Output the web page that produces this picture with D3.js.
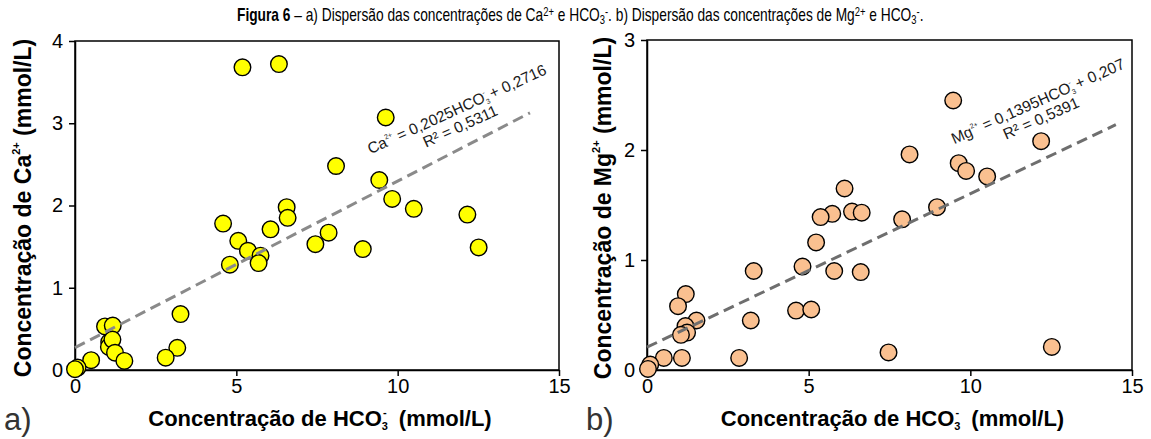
<!DOCTYPE html>
<html>
<head>
<meta charset="utf-8">
<script src="https://cdn.jsdelivr.net/npm/d3@7"></script>
<style>
  body { margin: 0; background: #fff; }
  svg { display: block; }
  .tick text { font-family: "Liberation Sans", Arial, sans-serif; font-size: 20px; fill: #000; }
  .axis path, .axis line { stroke: #000; stroke-width: 1.5; }
</style>
</head>
<body>
<svg id="chart" width="1151" height="439"></svg>
<script>
// panel a) HCO3- vs Ca2+ (mmol/L)
var hco3Ca = [5.19, 6.32, 9.63, 8.09, 9.43, 9.83, 10.50, 12.16, 12.51, 8.92, 7.86, 7.45, 6.56, 6.59, 6.06, 4.59, 5.06,
  5.36, 5.75, 5.69, 4.80, 3.27, 3.17, 2.81, 0.93, 1.17, 1.06, 1.05, 1.16, 1.24, 1.53, 0.50, 0.08, 0.00];
var ca = [3.68, 3.72, 3.07, 2.48, 2.31, 2.08, 1.96, 1.89, 1.49, 1.47, 1.67, 1.53, 1.98, 1.85, 1.71, 1.78, 1.57,
  1.45, 1.39, 1.30, 1.28, 0.68, 0.27, 0.15, 0.53, 0.54, 0.34, 0.28, 0.37, 0.21, 0.11, 0.12, 0.03, 0.01];

// panel b) HCO3- vs Mg2+ (mmol/L)
var hco3Mg = [9.47, 12.19, 8.12, 9.64, 9.87, 10.52, 8.97, 7.89, 6.11, 6.34, 6.64, 5.73, 5.37, 5.23, 4.81, 5.79, 6.61,
  3.30, 4.61, 5.08, 3.21, 2.85, 7.47, 12.52, 1.20, 0.96, 1.53, 1.19, 1.24, 1.05, 1.08, 0.52, 0.10, 0.03];
var mg = [2.45, 2.08, 1.96, 1.88, 1.81, 1.76, 1.48, 1.37, 1.65, 1.44, 1.43, 1.42, 1.39, 1.16, 0.94, 0.90, 0.89,
  0.90, 0.54, 0.55, 0.45, 0.11, 0.16, 0.21, 0.69, 0.58, 0.45, 0.40, 0.34, 0.32, 0.11, 0.11, 0.05, 0.01];

// linear fits [slope, intercept] and the x extent of the trend line
var fitCa = [0.2025, 0.2716];
var fitMg = [0.1395, 0.207];
var fitRangeCa = [0, 14.1];
var fitRangeMg = [0, 14.5];

var xTicks = [0, 5, 10, 15];
var yTicksCa = [0, 1, 2, 3, 4];
var yTicksMg = [0, 1, 2, 3];

var svg = d3.select('#chart');
var sans = '"Liberation Sans", Arial, sans-serif';

svg.append('rect').attr('width', 1151).attr('height', 439).attr('fill', '#fff');

// caption (condensed look by horizontal squeeze)
var cap = svg.append('text')
  .attr('transform', 'translate(237,21) scale(0.786,1)')
  .style('font-family', sans).style('font-size', '17.5px');
cap.append('tspan').style('font-weight', 'bold').text('Figura 6');
cap.append('tspan').text(' \u2013 a) Dispers\u00e3o das concentra\u00e7\u00f5es de Ca');
cap.append('tspan').attr('dy', -5).style('font-size', '12px').text('2+');
cap.append('tspan').attr('dy', 5).text(' e HCO');
cap.append('tspan').attr('dy', 3).style('font-size', '12px').text('3');
cap.append('tspan').attr('dy', -8).style('font-size', '12px').text('-');
cap.append('tspan').attr('dy', 5).text('. b) Dispers\u00e3o das concentra\u00e7\u00f5es de Mg');
cap.append('tspan').attr('dy', -5).style('font-size', '12px').text('2+');
cap.append('tspan').attr('dy', 5).text(' e HCO');
cap.append('tspan').attr('dy', 3).style('font-size', '12px').text('3');
cap.append('tspan').attr('dy', -8).style('font-size', '12px').text('-');
cap.append('tspan').attr('dy', 5).text('.');

function drawPanel(p) {
  var x = d3.scaleLinear().domain([0, 15]).range(p.xRange);
  var y = d3.scaleLinear().domain(p.yDomain).range(p.yRange);
  var g = svg.append('g');

  g.append('g')
    .attr('class', 'axis')
    .attr('transform', 'translate(0,' + p.yRange[0] + ')')
    .call(d3.axisBottom(x).tickValues(xTicks).tickFormat(d3.format('d'))
      .tickSize(6).tickSizeOuter(0).tickPadding(3));

  g.append('g')
    .attr('class', 'axis')
    .attr('transform', 'translate(' + p.xRange[0] + ',0)')
    .call(d3.axisLeft(y).tickValues(p.yTicks).tickFormat(d3.format('d'))
      .tickSize(6).tickSizeOuter(0).tickPadding(6));

  g.append('rect')
    .attr('x', p.xRange[0]).attr('y', p.yRange[1])
    .attr('width', p.xRange[1] - p.xRange[0])
    .attr('height', p.yRange[0] - p.yRange[1])
    .attr('fill', 'none').attr('stroke', '#000').attr('stroke-width', 1.5);

  // points
  g.selectAll('circle')
    .data(p.xs)
    .enter()
    .append('circle')
    .attr('cx', function(d) { return x(d); })
    .attr('cy', function(d, i) { return y(p.ys[i]); })
    .attr('r', 8.3)
    .attr('fill', p.color)
    .attr('stroke', '#000')
    .attr('stroke-width', 1.4);

  // trend line
  var line = d3.line()
    .x(function(d) { return x(d); })
    .y(function(d) { return y(p.fit[0] * d + p.fit[1]); });
  g.append('path')
    .attr('d', line(p.fitRange))
    .attr('fill', 'none')
    .attr('stroke', p.lineColor)
    .attr('stroke-width', 3)
    .attr('stroke-dasharray', '11,6');

  // equation
  var eq = g.append('g')
    .attr('transform', 'translate(' + p.eqPos[0] + ',' + p.eqPos[1] + ') rotate(' + p.eqAngle + ')')
    .style('font-family', sans).style('font-size', '15.5px').attr('fill', '#1a1a1a');
  var t1 = eq.append('text').attr('text-anchor', 'middle');
  t1.append('tspan').text(p.ion);
  t1.append('tspan').attr('dy', -7).style('font-size', '7px').text('2+');
  t1.append('tspan').attr('dy', 7).text(' = ' + p.eqText[0] + 'HCO');
  t1.append('tspan').attr('dy', 3).style('font-size', '7px').text('3');
  t1.append('tspan').attr('dx', -4).attr('dy', -10).style('font-size', '7px').text('-');
  t1.append('tspan').attr('dy', 7).text(' + ' + p.eqText[1]);
  eq.append('text').attr('text-anchor', 'middle')
    .attr('x', p.r2Shift).attr('y', 17)
    .text('R\u00b2 = ' + p.eqText[2]);

  // y title
  var yt = g.append('text')
    .attr('transform', 'translate(' + p.yTitlePos[0] + ',' + p.yTitlePos[1] + ') rotate(-90)')
    .attr('text-anchor', 'middle')
    .style('font-family', sans).style('font-size', '23px').style('font-weight', 'bold');
  yt.append('tspan').text('Concentra\u00e7\u00e3o de ' + p.ion);
  yt.append('tspan').attr('dy', -11).style('font-size', '11px').text('2+');
  yt.append('tspan').attr('dy', 11).text('\u00a0(mmol/L)');

  // x title
  var xt = g.append('text')
    .attr('x', (p.xRange[0] + p.xRange[1]) / 2 + 3).attr('y', 426)
    .attr('text-anchor', 'middle')
    .style('font-family', sans).style('font-size', '22px').style('font-weight', 'bold');
  xt.append('tspan').text('Concentra\u00e7\u00e3o de HCO');
  xt.append('tspan').attr('dy', 4).style('font-size', '11px').text('3');
  xt.append('tspan').attr('dx', -5).attr('dy', -14).style('font-size', '11px').text('-');
  xt.append('tspan').attr('dy', 10).text('\u00a0 (mmol/L)');

  // panel letter
  g.append('text')
    .attr('x', p.letterX).attr('y', 430)
    .style('font-family', sans).style('font-size', '31px').attr('fill', '#333')
    .text(p.letter);
}

drawPanel({
  xs: hco3Ca, ys: ca, color: '#ffff00', lineColor: '#8a8a8a',
  xRange: [75, 559], yRange: [370, 41], yDomain: [0, 4], yTicks: yTicksCa,
  fit: fitCa, fitRange: fitRangeCa,
  ion: 'Ca', eqText: ['0,2025', '0,2716', '0,5311'],
  eqPos: [459, 114], eqAngle: -24.5, r2Shift: -4,
  yTitlePos: [31, 208], letter: 'a)', letterX: 4
});

drawPanel({
  xs: hco3Mg, ys: mg, color: '#fac090', lineColor: '#6e6e6e',
  xRange: [647, 1132], yRange: [370, 40], yDomain: [0, 3], yTicks: yTicksMg,
  fit: fitMg, fitRange: fitRangeMg,
  ion: 'Mg', eqText: ['0,1395', '0,207', '0,5391'],
  eqPos: [1040, 106], eqAngle: -24, r2Shift: -4,
  yTitlePos: [611, 208], letter: 'b)', letterX: 586
});
</script>
</body>
</html>
